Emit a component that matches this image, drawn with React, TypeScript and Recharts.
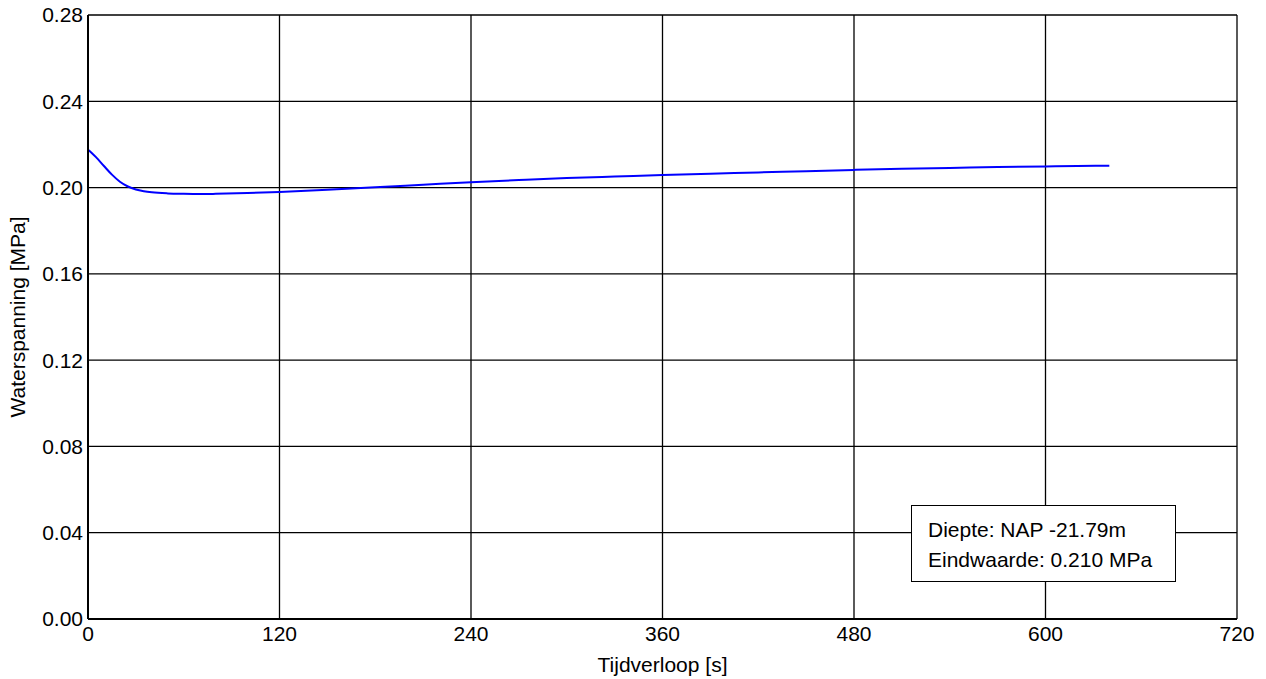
import { LineChart, Line, XAxis, YAxis, CartesianGrid } from 'recharts';

// Tijd (s) en waterspanning (MPa) van de dissipatietest
const tijd = [
  0, 2, 5, 10, 15, 20, 25, 30, 35, 40, 50, 60, 70, 80, 100, 120, 150, 180, 210, 240,
  270, 300, 330, 360, 390, 420, 450, 480, 510, 540, 570, 600, 620, 640,
];
const waterspanning = [
  0.2176, 0.2163, 0.2141, 0.21, 0.206, 0.2027, 0.2005, 0.1991, 0.1983, 0.1978, 0.1973,
  0.1971, 0.197, 0.1971, 0.1975, 0.198, 0.199, 0.2001, 0.2013, 0.2025, 0.2035,
  0.2044, 0.2051, 0.2058, 0.2064, 0.207, 0.2076, 0.2082, 0.2087, 0.2091, 0.2095,
  0.2098, 0.21, 0.2101,
];

const xTicks = [0, 120, 240, 360, 480, 600, 720];
const yTicks = [0, 0.04, 0.08, 0.12, 0.16, 0.2, 0.24, 0.28];

const diepte = 'Diepte: NAP -21.79m';
const eindwaarde = 'Eindwaarde: 0.210 MPa';

const data = tijd.map((t, i) => ({ t, u: waterspanning[i] }));

const font = 'Arial, "Liberation Sans", sans-serif';
const textStyle = { fill: '#000', fontSize: 21, fontFamily: font };

export default function App() {
  return (
    <div style={{ position: 'absolute', left: 0, top: 0, width: 1266, height: 679, fontFamily: font }}>
      <LineChart
        width={1266}
        height={679}
        data={data}
        margin={{ top: 15, right: 29, left: 0, bottom: 0 }}
      >
        <CartesianGrid stroke="#000" strokeWidth={1.3} />
        <XAxis
          dataKey="t"
          type="number"
          domain={[0, 720]}
          ticks={xTicks}
          height={60}
          tickLine={false}
          tickSize={0}
          tickMargin={7}
          axisLine={{ stroke: '#000', strokeWidth: 2 }}
          tick={textStyle}
          label={{
            value: 'Tijdverloop [s]',
            position: 'insideBottom',
            offset: 7,
            style: textStyle,
          }}
        />
        <YAxis
          type="number"
          domain={[0, 0.28]}
          ticks={yTicks}
          width={88}
          tickLine={false}
          tickSize={0}
          tickMargin={5}
          tickFormatter={(v: number) => v.toFixed(2)}
          axisLine={{ stroke: '#000', strokeWidth: 2 }}
          tick={textStyle}
          label={{
            value: 'Waterspanning [MPa]',
            angle: -90,
            position: 'insideLeft',
            offset: 18,
            style: { ...textStyle, textAnchor: 'middle' },
          }}
        />
        <Line
          dataKey="u"
          type="monotone"
          stroke="#0000ff"
          strokeWidth={2}
          dot={false}
          isAnimationActive={false}
        />
      </LineChart>
      <div
        style={{
          position: 'absolute',
          left: 911,
          top: 505,
          width: 263,
          height: 75,
          border: '1px solid #000',
          background: '#fff',
          fontSize: 21,
          lineHeight: '30px',
        }}
      >
        <div style={{ position: 'absolute', left: 16, top: 9, whiteSpace: 'nowrap' }}>{diepte}</div>
        <div style={{ position: 'absolute', left: 16, top: 39, whiteSpace: 'nowrap' }}>{eindwaarde}</div>
      </div>
    </div>
  );
}
